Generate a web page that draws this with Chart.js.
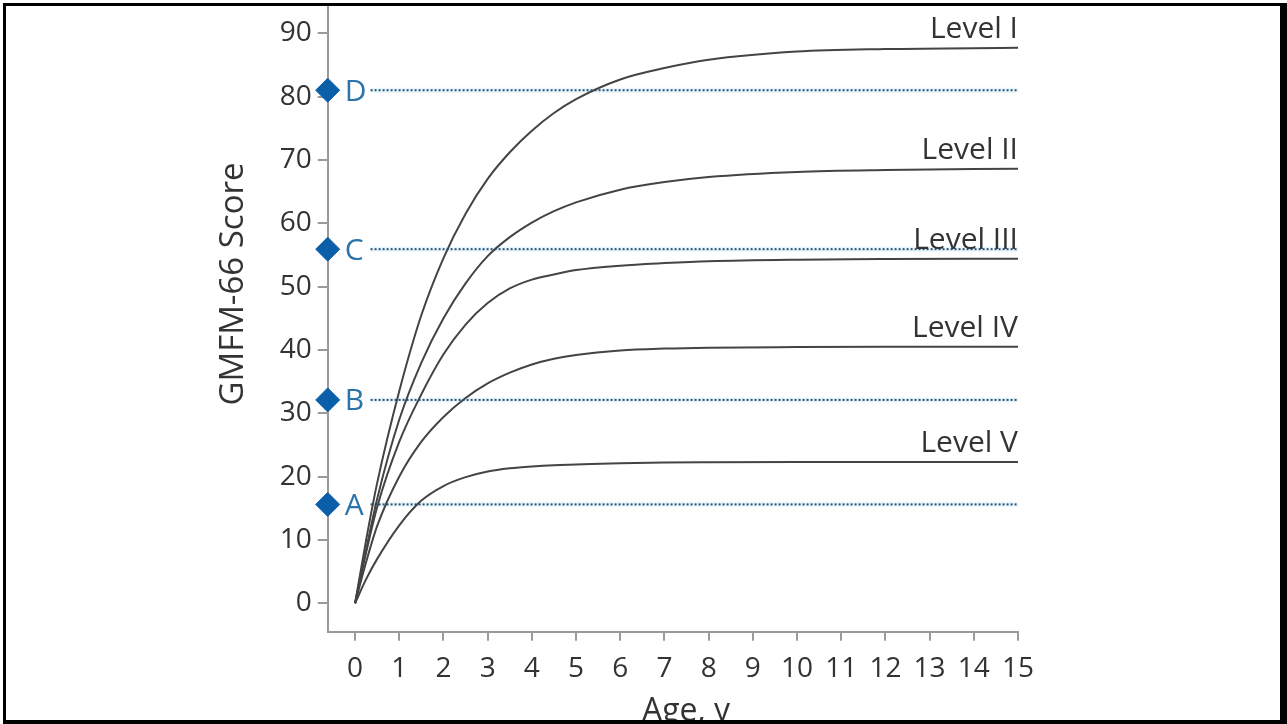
<!DOCTYPE html>
<html>
<head>
<meta charset="utf-8">
<script src="https://cdn.jsdelivr.net/npm/chart.js@4"></script>
<style>
	html, body { margin: 0; padding: 0; background: #fff; overflow: hidden; }
	#frame {
		position: absolute; left: 3px; top: 3px; width: 1274px; height: 714px;
		border-style: solid; border-color: #000; border-width: 3px 7px 4px 3px;
		background: #fff;
	}
	#graph { display: block; }
</style>
</head>
<body>
<div id="frame"><canvas id="graph" width="1274" height="714"></canvas></div>
<script>
var ages = [0, 0.25, 0.5, 1, 1.5, 2, 2.5, 3, 3.5, 4, 4.5, 5, 6, 7, 8, 10, 12, 15];
// GMFM-66 score per GMFCS level
var level_1 = [0, 10, 19, 33.5, 45.5, 54.5, 61.5, 67, 71.2, 74.6, 77.4, 79.6, 82.7, 84.5, 85.8, 87.1, 87.5, 87.7];
var level_2 = [0, 8.5, 16.5, 29, 38, 45, 50.5, 54.8, 57.8, 60.1, 61.9, 63.3, 65.3, 66.5, 67.3, 68.1, 68.4, 68.6];
var level_3 = [0, 8, 15.2, 25.5, 33, 39.3, 44, 47.4, 49.7, 51.1, 51.9, 52.6, 53.3, 53.7, 54, 54.25, 54.35, 54.4];
var level_4 = [0, 6.5, 12.2, 20, 25.5, 29.4, 32.4, 34.7, 36.4, 37.7, 38.6, 39.2, 39.9, 40.2, 40.35, 40.45, 40.5, 40.5];
var level_5 = [0, 3.8, 7, 12.3, 16.2, 18.5, 19.9, 20.8, 21.3, 21.6, 21.8, 21.9, 22.1, 22.2, 22.25, 22.3, 22.3, 22.3];
var level_names = ["Level I", "Level II", "Level III", "Level IV", "Level V"];

// Reference scores (diamonds + dotted lines)
var marker_names = ["A", "B", "C", "D"];
var marker_scores = [15.6, 32.1, 55.9, 81];

// Axis ticks
var x_ticks = [0, 1, 2, 3, 4, 5, 6, 7, 8, 9, 10, 11, 12, 13, 14, 15];
var y_ticks = [0, 10, 20, 30, 40, 50, 60, 70, 80, 90];

// Axis ranges
var x_min = -0.62, x_max = 15;
var y_min = -4.5, y_max = 94.3;
var line_start = 0.35;

var text_color = "#333333";
var curve_color = "#444444";
var axis_color = "#9a9a9a";
var marker_color = "#0b5ea8";
var letter_color = "#2b74aa";
var font_family = "'Open Sans', sans-serif";

var datasets = [];

// Diamonds on the y axis
datasets.push({
	data: marker_scores.map(s => ({x: x_min, y: s})),
	showLine: false,
	pointStyle: "rectRot",
	pointRadius: 12,
	backgroundColor: marker_color,
	borderColor: marker_color,
	clip: false
});

// Curves
[level_1, level_2, level_3, level_4, level_5].forEach(function(level) {
	datasets.push({
		data: ages.map((a, i) => ({x: a, y: level[i]})),
		showLine: true,
		borderColor: curve_color,
		borderWidth: 2,
		pointRadius: 0,
		cubicInterpolationMode: "monotone"
	});
});

// Dotted reference lines, each with a faint halo underneath
marker_scores.forEach(function(s) {
	datasets.push({
		data: [{x: line_start, y: s}, {x: x_max, y: s}],
		showLine: true,
		borderColor: "#2a5070",
		borderWidth: 2,
		borderDash: [2, 2],
		pointRadius: 0
	});
	datasets.push({
		data: [{x: line_start, y: s}, {x: x_max, y: s}],
		showLine: true,
		borderColor: "rgba(190,228,248,0.35)",
		borderWidth: 5,
		pointRadius: 0
	});
});

// Text labels: letters, level names, axis titles
var labels_plugin = {
	id: "labels",
	afterDatasetsDraw: function(chart) {
		var ctx = chart.ctx;
		ctx.save();

		ctx.font = "30px " + font_family;
		ctx.fillStyle = letter_color;
		ctx.textAlign = "left";
		ctx.textBaseline = "alphabetic";
		chart.getDatasetMeta(0).data.forEach(function(pt, i) {
			ctx.fillText(marker_names[i], pt.x + 17, pt.y + 10.5);
		});

		ctx.fillStyle = text_color;
		ctx.textAlign = "right";
		for (var i = 0; i < level_names.length; i++) {
			var pts = chart.getDatasetMeta(i + 1).data;
			var last = pts[pts.length - 1];
			ctx.fillText(level_names[i], last.x, last.y - 10);
		}

		// x title
		ctx.font = "32px " + font_family;
		ctx.textAlign = "center";
		ctx.fillText("Age, y", 680, 715);

		// y title
		ctx.font = "33px " + font_family;
		ctx.translate(237, 278);
		ctx.rotate(-Math.PI / 2);
		ctx.fillText("GMFM-66 Score", 0, 0);

		ctx.restore();
	}
};

// Drop the padding chart.js keeps for half a tick label at the axis ends
function no_padding(scale) {
	scale.paddingTop = 0;
	scale.paddingBottom = 0;
	scale.paddingLeft = 0;
	scale.paddingRight = 0;
}

var canvas = document.getElementById("graph").getContext("2d");
var graph = new Chart(canvas, {
	type: "scatter",
	data: { datasets: datasets },
	plugins: [labels_plugin],
	options: {
		responsive: false,
		animation: false,
		layout: {
			autoPadding: false,
			padding: { left: 0, right: 262, top: 0, bottom: 0 }
		},
		plugins: {
			legend: { display: false },
			tooltip: { enabled: false }
		},
		scales: {
			x: {
				type: "linear",
				min: x_min,
				max: x_max,
				afterBuildTicks: function(scale) {
					scale.ticks = x_ticks.map(v => ({value: v}));
				},
				afterFit: function(scale) {
					scale.height = 88.3;
					no_padding(scale);
				},
				grid: { drawOnChartArea: false, tickLength: 9, color: axis_color, lineWidth: 2 },
				border: { color: axis_color, width: 2 },
				ticks: {
					autoSkip: false,
					maxRotation: 0,
					padding: 12,
					color: text_color,
					font: { family: font_family, size: 28 }
				}
			},
			y: {
				type: "linear",
				min: y_min,
				max: y_max,
				afterBuildTicks: function(scale) {
					scale.ticks = y_ticks.map(v => ({value: v}));
				},
				afterFit: function(scale) {
					scale.width = 321.7;
					no_padding(scale);
				},
				grid: { drawOnChartArea: false, tickLength: 10, color: axis_color, lineWidth: 2 },
				border: { color: axis_color, width: 2 },
				ticks: {
					padding: 6,
					color: text_color,
					font: { family: font_family, size: 28 }
				}
			}
		}
	}
});
</script>
</body>
</html>
